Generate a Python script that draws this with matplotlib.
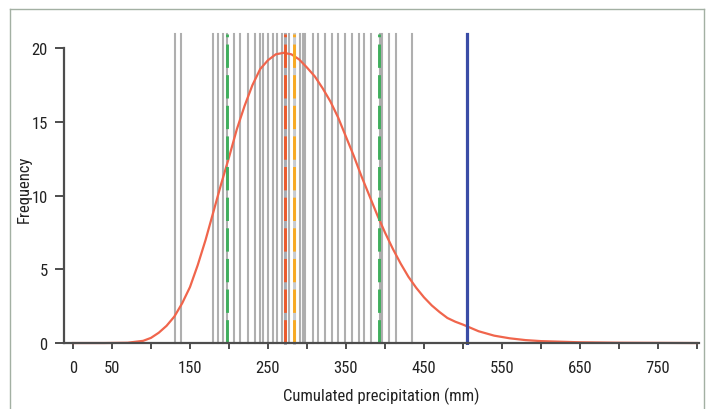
import matplotlib
matplotlib.use('Agg')
import matplotlib.pyplot as plt
from matplotlib.lines import Line2D
from matplotlib import font_manager

# annual cumulated precipitation values (mm), one vertical line each
years_precip = [131, 138, 180, 186, 192, 198, 206, 214, 224, 233, 240, 244, 250, 256,
                262, 268, 272, 277, 285, 291, 295, 298, 308, 314, 323, 332, 340, 349,
                358, 367, 373, 382, 393, 396, 405, 414, 435]

# fitted frequency curve
curve_x = [0, 40, 70, 90, 100, 110, 120, 130, 140, 150, 160, 170, 180, 190, 200, 210,
           220, 230, 240, 250, 260, 270, 280, 290, 300, 310, 320, 330, 340, 350, 360,
           370, 380, 390, 400, 410, 420, 430, 440, 450, 460, 470, 480, 490, 500, 520,
           540, 560, 580, 600, 650, 700, 750, 800]
curve_y = [0, 0, 0.02, 0.15, 0.35, 0.7, 1.17, 1.8, 2.7, 3.8, 5.3, 7.0, 8.9, 10.8, 12.6,
           14.5, 16.1, 17.5, 18.6, 19.2, 19.6, 19.7, 19.6, 19.25, 18.7, 18.1, 17.3, 16.4,
           15.3, 14.0, 12.7, 11.3, 10.0, 8.7, 7.5, 6.4, 5.4, 4.5, 3.75, 3.1, 2.55, 2.1,
           1.7, 1.45, 1.25, 0.8, 0.5, 0.32, 0.2, 0.13, 0.05, 0.02, 0.01, 0]

mean_val = 272
median_val = 283
low_pct = 198
high_pct = 392
obs_val = 505

xtick_pos = list(range(0, 801, 50))
xtick_lab = ['0', '50', '', '150', '', '250', '', '350', '', '450', '', '550', '', '650', '', '750', '']
ytick_pos = [0, 5, 10, 15, 20]

# pick a narrow face if one is there
names = {f.name for f in font_manager.fontManager.ttflist}
narrow = [n for n in ['Liberation Sans Narrow', 'Roboto Condensed', 'Open Sans Condensed',
                      'DejaVu Sans Condensed'] if n in names]
plt.rcParams['font.family'] = narrow + ['DejaVu Sans']
plt.rcParams['font.stretch'] = 'condensed'
fsize = 12 if narrow else 10.5

fig = plt.figure(figsize=(7.13, 4.10), dpi=100)
ax = fig.add_axes([0.0892, 0.1573, 0.8906, 0.7617])

top = 21
for v in years_precip:
    ax.plot([v, v], [0, top], color='#6e6e6e', alpha=0.55, lw=1.5, zorder=1)

ax.plot(curve_x, curve_y, color='#f0654c', lw=1.6, zorder=3)

# statistics lines
ax.plot([mean_val, mean_val], [0, top], color='#a8acb4', lw=2.1, zorder=2)
ax.plot([median_val, median_val], [0, top], color='#c8ccd2', lw=2.1, zorder=2)
ax.plot([mean_val, mean_val], [0, top], color='#ec5a2c', lw=2.1, dashes=(8, 2.5), zorder=4)
ax.plot([median_val, median_val], [0, top], color='#f8aa22', lw=2.1, dashes=(8, 2.5), zorder=4)
for v in [low_pct, high_pct]:
    ax.plot([v, v], [0, top], color='#3fae5c', lw=2.1, dashes=(8, 2.5), zorder=4)
ax.plot([obs_val, obs_val], [0, top], color='#3a4ca6', lw=2.3, zorder=5)

ax.set_xlim(-12, 802)
ax.set_ylim(-0.1, 21.1)
ax.spines['top'].set_visible(False)
ax.spines['right'].set_visible(False)
ax.spines['bottom'].set_position(('data', 0))
ax.spines['left'].set_bounds(0, 20)
for s in ['bottom', 'left']:
    ax.spines[s].set_color('#4d4d4d')
    ax.spines[s].set_linewidth(1.6)
    ax.spines[s].set_zorder(6)

ax.set_xticks(xtick_pos)
ax.set_xticklabels(xtick_lab)
ax.set_yticks(ytick_pos)
ax.tick_params(axis='x', direction='out', length=4, width=1.4, color='#4d4d4d',
               pad=8, labelsize=fsize, labelcolor='#222222')
ax.tick_params(axis='y', direction='out', length=6.5, width=1.4, color='#4d4d4d',
               pad=5, labelsize=fsize, labelcolor='#222222')

ax.set_xlabel('Cumulated precipitation (mm)', fontsize=fsize, color='#222222', labelpad=9)
ax.set_ylabel('Frequency', fontsize=fsize, color='#222222')
ax.yaxis.set_label_coords(-0.05, 0.5)

# thin frame around the figure
frame_c = '#a3b0a3'
fig.add_artist(Line2D([10/713, 10/713], [0, 1 - 10/410], transform=fig.transFigure, color=frame_c, lw=1))
fig.add_artist(Line2D([10/713, 704/713], [1 - 10/410, 1 - 10/410], transform=fig.transFigure, color=frame_c, lw=1))
fig.add_artist(Line2D([704/713, 704/713], [0, 1 - 10/410], transform=fig.transFigure, color=frame_c, lw=1))

fig.savefig('out.png', dpi=100)
